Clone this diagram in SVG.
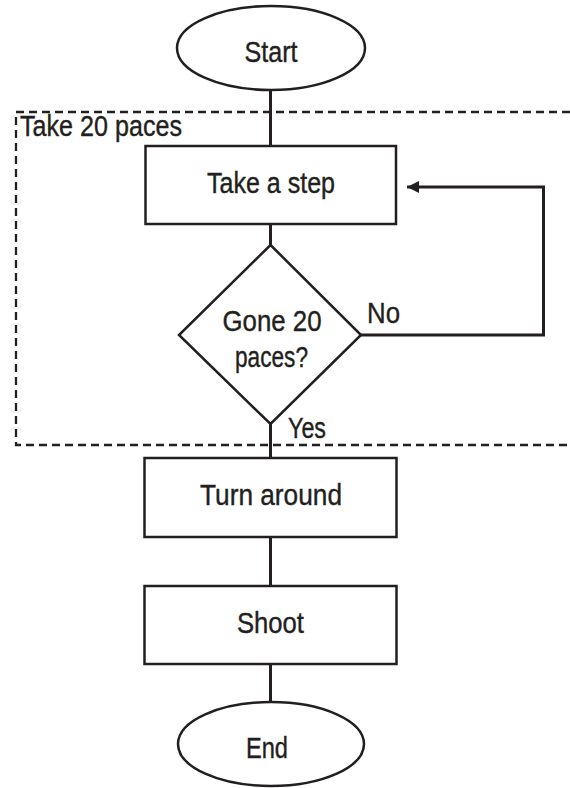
<svg xmlns="http://www.w3.org/2000/svg" width="570" height="788" viewBox="0 0 570 788">
<style>
.shape{fill:#fff;stroke:#231f20;stroke-width:2.5}
.conn{fill:none;stroke:#231f20;stroke-width:3}
.lbl{font-family:"Liberation Sans",Arial,sans-serif;font-size:30px;fill:#231f20;stroke:#231f20;stroke-width:0.4;text-anchor:middle}
.lbl-l{font-family:"Liberation Sans",Arial,sans-serif;font-size:30px;fill:#231f20;stroke:#231f20;stroke-width:0.4}
</style>
<defs>
<marker id="arrow" viewBox="0 0 10 10" refX="10" refY="5" markerWidth="12" markerHeight="15" markerUnits="userSpaceOnUse" orient="auto">
<path d="M0,0 L10,5 L0,10 Z" fill="#231f20"/>
</marker>
</defs>
<rect width="570" height="788" fill="#fff"/>
<g id="group-take20">
<path d="M570 112 H16 V445 H570" fill="none" stroke="#231f20" stroke-width="2.3" stroke-dasharray="8 5"/>
<text class="lbl-l" x="20" y="136" textLength="162" lengthAdjust="spacingAndGlyphs">Take 20 paces</text>
</g>
<g id="connectors">
<line class="conn" x1="270.5" y1="90" x2="270.5" y2="146"/>
<line class="conn" x1="270.5" y1="224" x2="270.5" y2="245"/>
<line class="conn" x1="270.5" y1="424" x2="270.5" y2="458"/>
<line class="conn" x1="270.5" y1="537" x2="270.5" y2="586"/>
<line class="conn" x1="270.5" y1="664" x2="270.5" y2="702"/>
<path class="conn" d="M361 335 H543.5 V187 H407" marker-end="url(#arrow)"/>
<text class="lbl-l" x="367" y="323" textLength="33" lengthAdjust="spacingAndGlyphs">No</text>
<text class="lbl-l" x="288" y="438" textLength="38" lengthAdjust="spacingAndGlyphs">Yes</text>
</g>
<g id="start">
<ellipse class="shape" cx="271" cy="48" rx="94" ry="42"/>
<text class="lbl" x="271" y="62" textLength="53" lengthAdjust="spacingAndGlyphs">Start</text>
</g>
<g id="take-step">
<rect class="shape" x="145.5" y="146" width="250.5" height="78"/>
<text class="lbl" x="271" y="193" textLength="128" lengthAdjust="spacingAndGlyphs">Take a step</text>
</g>
<g id="decision">
<polygon class="shape" points="270.5,245 361,335 270.5,424 179,335"/>
<text class="lbl" x="272" y="331" textLength="99" lengthAdjust="spacingAndGlyphs">Gone 20</text>
<text class="lbl" x="271.5" y="367" textLength="73" lengthAdjust="spacingAndGlyphs">paces?</text>
</g>
<g id="turn-around">
<rect class="shape" x="144.5" y="458" width="252" height="79"/>
<text class="lbl" x="271" y="505" textLength="142" lengthAdjust="spacingAndGlyphs">Turn around</text>
</g>
<g id="shoot">
<rect class="shape" x="144.5" y="586" width="252" height="78"/>
<text class="lbl" x="270.5" y="633" textLength="67" lengthAdjust="spacingAndGlyphs">Shoot</text>
</g>
<g id="end">
<ellipse class="shape" cx="271" cy="744" rx="93" ry="42"/>
<text class="lbl" x="267" y="758" textLength="42" lengthAdjust="spacingAndGlyphs">End</text>
</g>
</svg>
